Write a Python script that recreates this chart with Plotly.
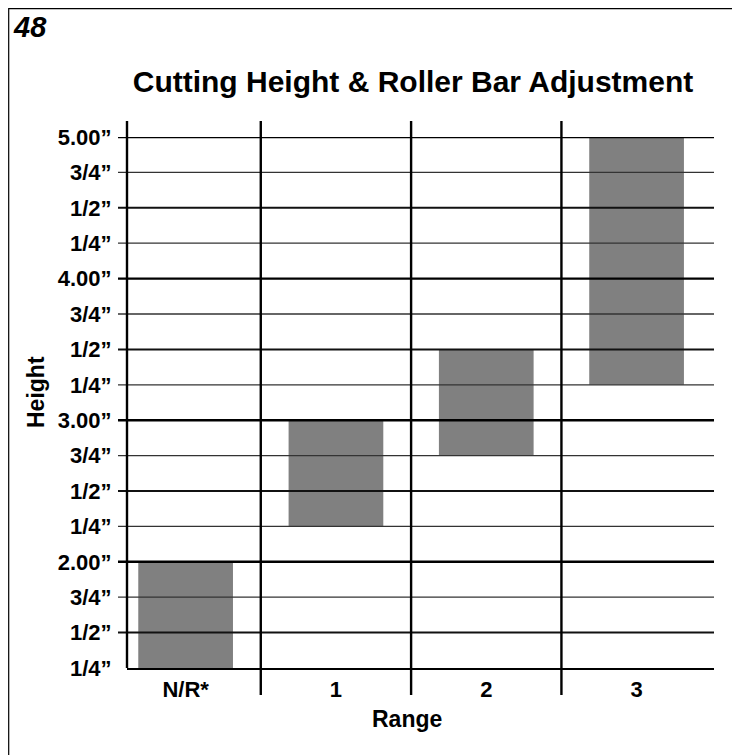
import plotly.graph_objects as go

# ---- data
RANGES = ["N/R*", "1", "2", "3"]
LOW = [1.25, 2.25, 2.75, 3.25]
HIGH = [2.00, 3.00, 3.50, 5.00]

TICK_VALS = [1.25, 1.5, 1.75, 2.0, 2.25, 2.5, 2.75, 3.0,
             3.25, 3.5, 3.75, 4.0, 4.25, 4.5, 4.75, 5.0]
TICK_TEXT = ["1/4”", "1/2”", "3/4”", "2.00”", "1/4”", "1/2”", "3/4”", "3.00”",
             "1/4”", "1/2”", "3/4”", "4.00”", "1/4”", "1/2”", "3/4”", "5.00”"]

FONT = "Liberation Sans, Arial, Helvetica, sans-serif"
BAR_GREY = "#808080"

# the page body adds an 8px margin, so the figure is 8px smaller each way
# and every reference pixel below is shifted back by 8
PAGE_OFF = 8
W, H = 740 - PAGE_OFF, 755 - PAGE_OFF
PLOT_L, PLOT_R, PLOT_T, PLOT_B = 127, 714, 137, 668   # page pixels
L, R = PLOT_L - PAGE_OFF, W - (PLOT_R - PAGE_OFF)
T, B = PLOT_T - PAGE_OFF, H - (PLOT_B - PAGE_OFF)
PW, PH = PLOT_R - PLOT_L, PLOT_B - PLOT_T


def px_x(px):
    return (px - PLOT_L) / PW


def px_y(py):
    return (PLOT_B - py) / PH


fig = go.Figure()
fig.add_bar(
    x=RANGES,
    y=[h - l for l, h in zip(LOW, HIGH)],
    base=LOW,
    width=0.63,
    marker=dict(color=BAR_GREY, line=dict(width=0)),
    hoverinfo="skip",
)

shapes = []
# horizontal rules: heavy on whole inches, medium on halves, light on quarters
for v in TICK_VALS[1:]:
    if v % 1 == 0:
        lw, col = 2.4, "#000"
    elif v % 0.5 == 0:
        lw, col = 2.0, "#111"
    else:
        lw, col = 1.3, "#333"
    shapes.append(dict(type="line", xref="paper", yref="y", x0=px_x(118), x1=1,
                       y0=v, y1=v, line=dict(color=col, width=lw), layer="above"))

# left axis and column separators, running past the plot area
shapes.append(dict(type="line", xref="paper", yref="paper", x0=0, x1=0,
                   y0=0, y1=px_y(121), line=dict(color="#000", width=2.4)))
for i in range(len(RANGES) - 1):
    shapes.append(dict(type="line", xref="x", yref="paper", x0=i + 0.5, x1=i + 0.5,
                       y0=px_y(695), y1=px_y(121), line=dict(color="#000", width=2.4)))

# page frame (left/top edges fall just inside the figure)
shapes.append(dict(type="rect", xref="paper", yref="paper",
                   x0=px_x(PAGE_OFF + 0.7), x1=px_x(733), y0=px_y(780), y1=px_y(PAGE_OFF + 0.7),
                   line=dict(color="#000", width=1.2)))

annotations = [
    dict(text="48", xref="paper", yref="paper", x=px_x(11), y=px_y(PAGE_OFF + 1),
         xanchor="left", yanchor="top", showarrow=False,
         font=dict(family=FONT, size=29, color="#000", weight="bold", style="italic")),
    dict(text="Height", xref="paper", yref="paper", x=px_x(36), y=px_y(392),
         textangle=-90, showarrow=False, xanchor="center", yanchor="middle",
         font=dict(family=FONT, size=23, color="#000", weight="bold")),
    dict(text="Range", xref="paper", yref="paper", x=px_x(407), y=px_y(719),
         showarrow=False, xanchor="center", yanchor="middle",
         font=dict(family=FONT, size=23, color="#000", weight="bold")),
]

fig.update_layout(
    width=W, height=H,
    margin=dict(l=L, r=R, t=T, b=B),
    paper_bgcolor="white", plot_bgcolor="white",
    showlegend=False,
    title=dict(text="Cutting Height & Roller Bar Adjustment",
               xref="paper", x=px_x(413), xanchor="center",
               yref="container", y=1 - (81 - PAGE_OFF) / H, yanchor="middle",
               font=dict(family=FONT, size=30, color="#000", weight="bold")),
    shapes=shapes,
    annotations=annotations,
)
fig.update_xaxes(
    type="category", range=[-0.39, 3.515],
    showgrid=False, zeroline=False,
    showline=True, linecolor="#000", linewidth=2.4,
    ticks="outside", ticklen=0, tickcolor="rgba(0,0,0,0)",
    tickfont=dict(family=FONT, size=22, color="#000", weight="bold"),
)
fig.update_yaxes(
    range=[1.25, 5.0],
    tickvals=TICK_VALS, ticktext=TICK_TEXT,
    showgrid=False, zeroline=False, showline=False,
    ticks="outside", ticklen=10, tickcolor="rgba(0,0,0,0)",
    tickfont=dict(family=FONT, size=22, color="#000", weight="bold"),
)

fig.write_html("out.html")
